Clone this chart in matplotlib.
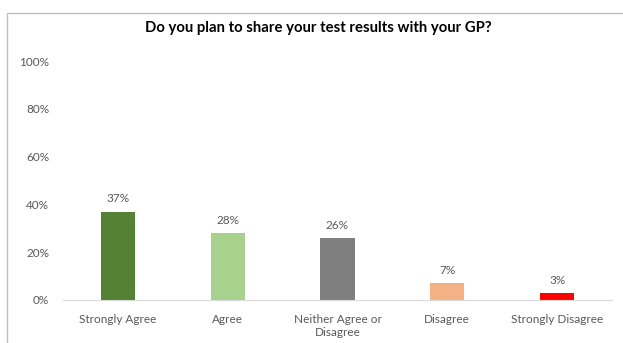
import matplotlib.pyplot as plt
from matplotlib.patches import Rectangle

plt.rcParams['font.family'] = ['Lato', 'DejaVu Sans']

categories = ["Strongly Agree", "Agree", "Neither Agree or\nDisagree",
              "Disagree", "Strongly Disagree"]
shares = [37, 28, 26, 7, 3]
colors = ["#548235", "#A9D18E", "#7F7F7F", "#F4B183", "#FF0000"]
yticks = [0, 20, 40, 60, 80, 100]

W, H = 623, 343
fig = plt.figure(figsize=(W / 100, H / 100), dpi=100)
ax = fig.add_axes([63 / W, 1 - 300 / H, 549 / W, 239 / H])

# chart frame (left and top edges show, rest runs off the canvas)
fig.patches.append(Rectangle((7 / W, -0.1), 1.2, 1 - 13 / H + 0.1,
                             transform=fig.transFigure, fill=False,
                             edgecolor="#BFBFBF", linewidth=1.0))

x = range(len(categories))
ax.bar(x, shares, width=0.31, color=colors, zorder=2)
for i, v in enumerate(shares):
    ax.text(i, v + 3, f"{v}%", ha="center", va="bottom",
            fontsize=8.5, color="#595959")

ax.set_xlim(-0.5, len(categories) - 0.5)
ax.set_ylim(0, 100)
ax.set_yticks(yticks)
ax.set_yticklabels([f"{t}%" for t in yticks])
ax.set_xticks(list(x))
ax.set_xticklabels(categories, linespacing=1.25)
ax.tick_params(axis="both", length=0, labelsize=8.5, colors="#595959")
ax.tick_params(axis="y", pad=10)
ax.tick_params(axis="x", pad=10)
for side in ["top", "right", "left"]:
    ax.spines[side].set_visible(False)
ax.spines["bottom"].set_color("#D9D9D9")

fig.text(318 / W, 1 - 28 / H, "Do you plan to share your test results with your GP?",
         ha="center", va="center", fontsize=10.7, fontweight="bold", color="black")

fig.savefig("out.png", dpi=100)
